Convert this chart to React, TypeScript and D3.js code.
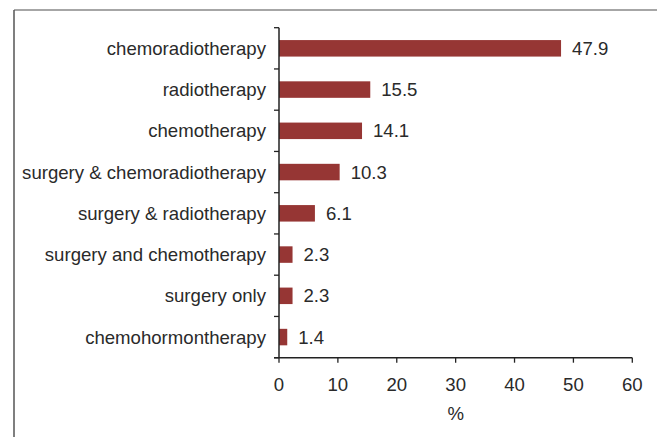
import React from "react";
import * as d3 from "d3";

const categories = [
  "chemoradiotherapy",
  "radiotherapy",
  "chemotherapy",
  "surgery & chemoradiotherapy",
  "surgery & radiotherapy",
  "surgery and chemotherapy",
  "surgery only",
  "chemohormontherapy",
];
const values = [47.9, 15.5, 14.1, 10.3, 6.1, 2.3, 2.3, 1.4];
const xTicks = [0, 10, 20, 30, 40, 50, 60];
const xTitle = "%";

export default function App() {
  const W = 657, H = 437;
  const x0 = 279, x1 = 632.3;
  const yTop = 27.7, yBot = 357.7;
  const x = d3.scaleLinear().domain([0, 60]).range([x0, x1]);
  const y = d3.scaleBand().domain(categories).range([yTop, yBot]).paddingInner(0.6).paddingOuter(0.3);
  const step = (yBot - yTop) / categories.length;
  const font = "'Liberation Sans', Arial, sans-serif";
  const fs = 18.6;
  const tc = "#2a2a2a";
  return (
    <svg width={W} height={H} style={{ position: "absolute", left: 0, top: 0 }}>
      <rect x={0} y={0} width={W} height={H} fill="#fff" />
      <line x1={14} y1={10} x2={W} y2={10} stroke="#888" strokeWidth={1.5} />
      <line x1={14} y1={10} x2={14} y2={H} stroke="#555" strokeWidth={1.5} />
      {categories.map((c, i) => (
        <g key={c}>
          <rect x={x(0)} y={y(c)!} width={x(values[i]) - x(0)} height={y.bandwidth()} fill="#963634" />
          <text x={x(values[i]) + 11} y={y(c)! + y.bandwidth() / 2} dy="0.35em" fontFamily={font} fontSize={fs} fill={tc}>
            {values[i].toFixed(1)}
          </text>
          <text x={266} y={y(c)! + y.bandwidth() / 2} dy="0.35em" textAnchor="end" fontFamily={font} fontSize={fs} fill={tc}>
            {c}
          </text>
        </g>
      ))}
      {d3.range(categories.length + 1).map((i) => (
        <line key={i} x1={x0 - 5} x2={x0} y1={yTop + i * step} y2={yTop + i * step} stroke="#222" strokeWidth={1.3} />
      ))}
      <line x1={x0} x2={x0} y1={yTop} y2={yBot} stroke="#222" strokeWidth={1.5} />
      <line x1={x0 - 5} x2={x1} y1={yBot} y2={yBot} stroke="#222" strokeWidth={1.5} />
      {xTicks.map((t) => (
        <g key={t}>
          <line x1={x(t)} x2={x(t)} y1={yBot} y2={yBot + 5} stroke="#222" strokeWidth={1.3} />
          <text x={x(t)} y={384.4} dy="0.35em" textAnchor="middle" fontFamily={font} fontSize={fs} fill={tc}>
            {t}
          </text>
        </g>
      ))}
      <text x={(x0 + x1) / 2} y={413} dy="0.35em" textAnchor="middle" fontFamily={font} fontSize={fs} fill={tc}>
        {xTitle}
      </text>
    </svg>
  );
}
